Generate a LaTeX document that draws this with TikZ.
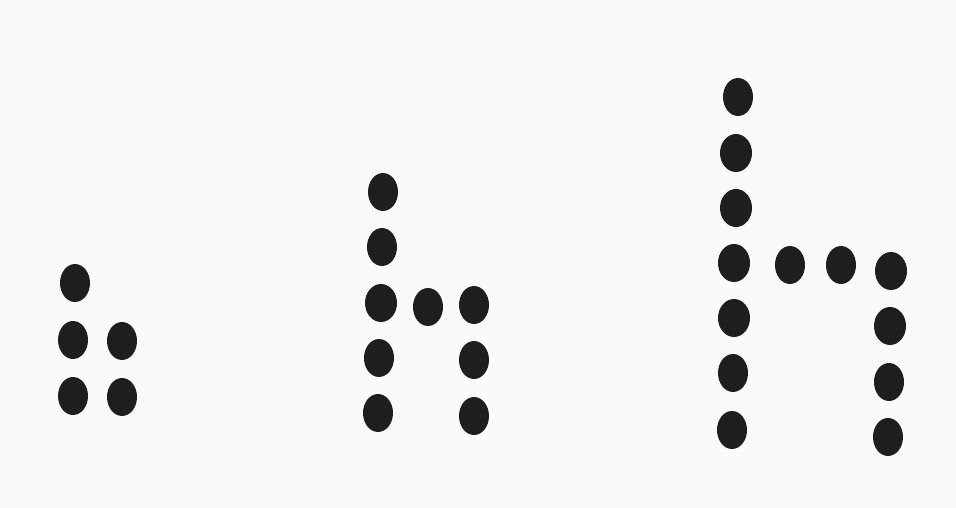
\documentclass[tikz,border=0pt]{standalone}
\usetikzlibrary{shapes.geometric}
\definecolor{paper}{HTML}{FBFAF7}
\definecolor{ink}{HTML}{1F1E1B}
\tikzset{
  dot/.style={ellipse, fill=ink, draw=none, inner sep=0pt, minimum width=30pt, minimum height=38pt},
  bigdot/.style={dot, minimum width=32pt, minimum height=38pt}
}
\begin{document}
\begin{tikzpicture}[x=1pt,y=-1pt]
\fill[paper] (0,0) rectangle (956,508);
\useasboundingbox (0,0) rectangle (956,508);
% group 1
\node[dot] (a1) at (75,283) {};
\node[dot] (a2) at (73,340) {};
\node[dot] (a3) at (122,341) {};
\node[dot] (a4) at (73,396) {};
\node[dot] (a5) at (122,397) {};
% group 2
\node[dot] (b1) at (383,192) {};
\node[dot] (b2) at (382,247) {};
\node[bigdot] (b3) at (381,303) {};
\node[dot] (b4) at (428,307) {};
\node[dot] (b5) at (474,305) {};
\node[dot] (b6) at (379,358) {};
\node[dot] (b7) at (474,360) {};
\node[dot] (b8) at (378,413) {};
\node[dot] (b9) at (474,416) {};
% group 3
\node[dot] (c1) at (738,97) {};
\node[bigdot] (c2) at (736,153) {};
\node[bigdot] (c3) at (736,208) {};
\node[bigdot] (c4) at (734,263) {};
\node[dot] (c5) at (790,265) {};
\node[dot] (c6) at (841,265) {};
\node[bigdot] (c7) at (891,271) {};
\node[bigdot] (c8) at (734,318) {};
\node[dot] (c9) at (733,373) {};
\node[dot] (c10) at (732,430) {};
\node[bigdot] (c11) at (890,326) {};
\node[dot] (c12) at (889,382) {};
\node[dot] (c13) at (888,437) {};
\end{tikzpicture}
\end{document}
